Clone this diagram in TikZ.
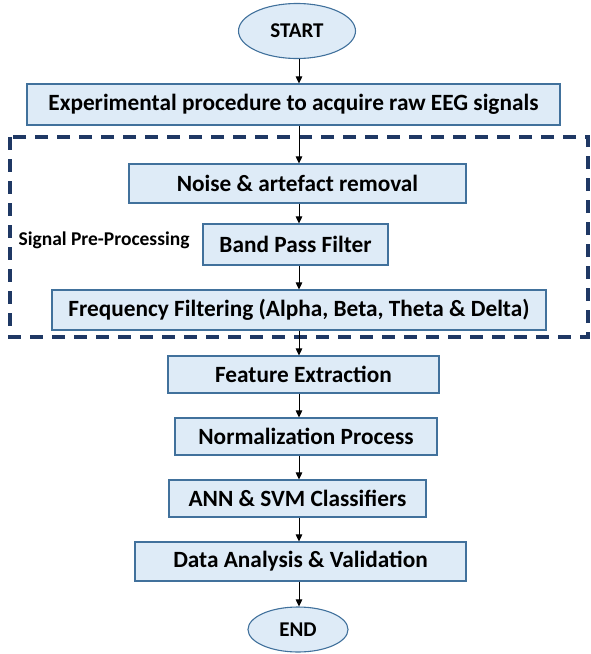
\documentclass[tikz,border=0pt]{standalone}
\usepackage{fontspec}
\setmainfont{Carlito}
\usetikzlibrary{shapes.geometric,arrows.meta}
\definecolor{boxfill}{HTML}{DEEBF7}
\definecolor{boxline}{HTML}{41719C}
\definecolor{groupline}{HTML}{1F3864}
\tikzset{
  stepbox/.style={draw=boxline, fill=boxfill, line width=1.1pt, inner sep=0pt,
    font=\bfseries\fontsize{23.3}{25}\selectfont, text=black},
  terminal/.style={ellipse, draw=boxline, fill=boxfill, line width=1.1pt, inner sep=0pt,
    font=\bfseries\fontsize{21}{23}\selectfont, text=black},
  flow/.style={draw=black, line width=0.9pt, -{Triangle[length=7pt,width=6.5pt]}},
  groupbox/.style={draw=groupline, line width=3.2pt, dash pattern=on 13pt off 9pt}
}
\begin{document}
\begin{tikzpicture}[x=1pt, y=-1pt]
\useasboundingbox (0,0) rectangle (590,654);

% pre-processing group frame
\draw[groupbox] (10,137) rectangle (588,337);
\node[anchor=west, font=\bfseries\fontsize{19.5}{21}\selectfont] (grouplabel) at (15,240) {Signal Pre-Processing};

% flow column
\coordinate (axis) at (299,0);

\node[terminal, minimum width=117pt, minimum height=55pt] (start) at (297,31) {START};
\node[stepbox, minimum width=533pt, minimum height=41pt] (acquire) at (293.5,104.5) {Experimental procedure to acquire raw EEG signals};
\node[stepbox, minimum width=337pt, minimum height=39pt] (noise) at (297.5,183.5) {Noise \& artefact removal};
\node[stepbox, minimum width=185pt, minimum height=41pt] (band) at (295.5,244.5) {Band Pass Filter};
\node[stepbox, minimum width=494pt, minimum height=40pt] (freq) at (299,310) {Frequency Filtering (Alpha, Beta, Theta \& Delta)};
\node[stepbox, minimum width=271pt, minimum height=37pt] (feat) at (303.5,374.5) {Feature Extraction};
\node[stepbox, minimum width=262pt, minimum height=37pt] (norm) at (306,436.5) {Normalization Process};
\node[stepbox, minimum width=257pt, minimum height=37pt] (ann) at (297.5,498.5) {ANN \& SVM Classifiers};
\node[stepbox, minimum width=331pt, minimum height=39pt] (data) at (300.5,561.5) {Data Analysis \& Validation};
\node[terminal, minimum width=100pt, minimum height=45pt] (finish) at (298,629.5) {END};

% connectors
\draw[flow] (axis |- start.south) -- (axis |- acquire.north);
\draw[flow] (axis |- acquire.south) -- (axis |- noise.north);
\draw[flow] (axis |- noise.south) -- (axis |- band.north);
\draw[flow] (axis |- band.south) -- (axis |- freq.north);
\draw[flow] (axis |- freq.south) -- (axis |- feat.north);
\draw[flow] (axis |- feat.south) -- (axis |- norm.north);
\draw[flow] (axis |- norm.south) -- (axis |- ann.north);
\draw[flow] (axis |- ann.south) -- (axis |- data.north);
\draw[flow] (axis |- data.south) -- (axis |- finish.north);
\end{tikzpicture}
\end{document}
